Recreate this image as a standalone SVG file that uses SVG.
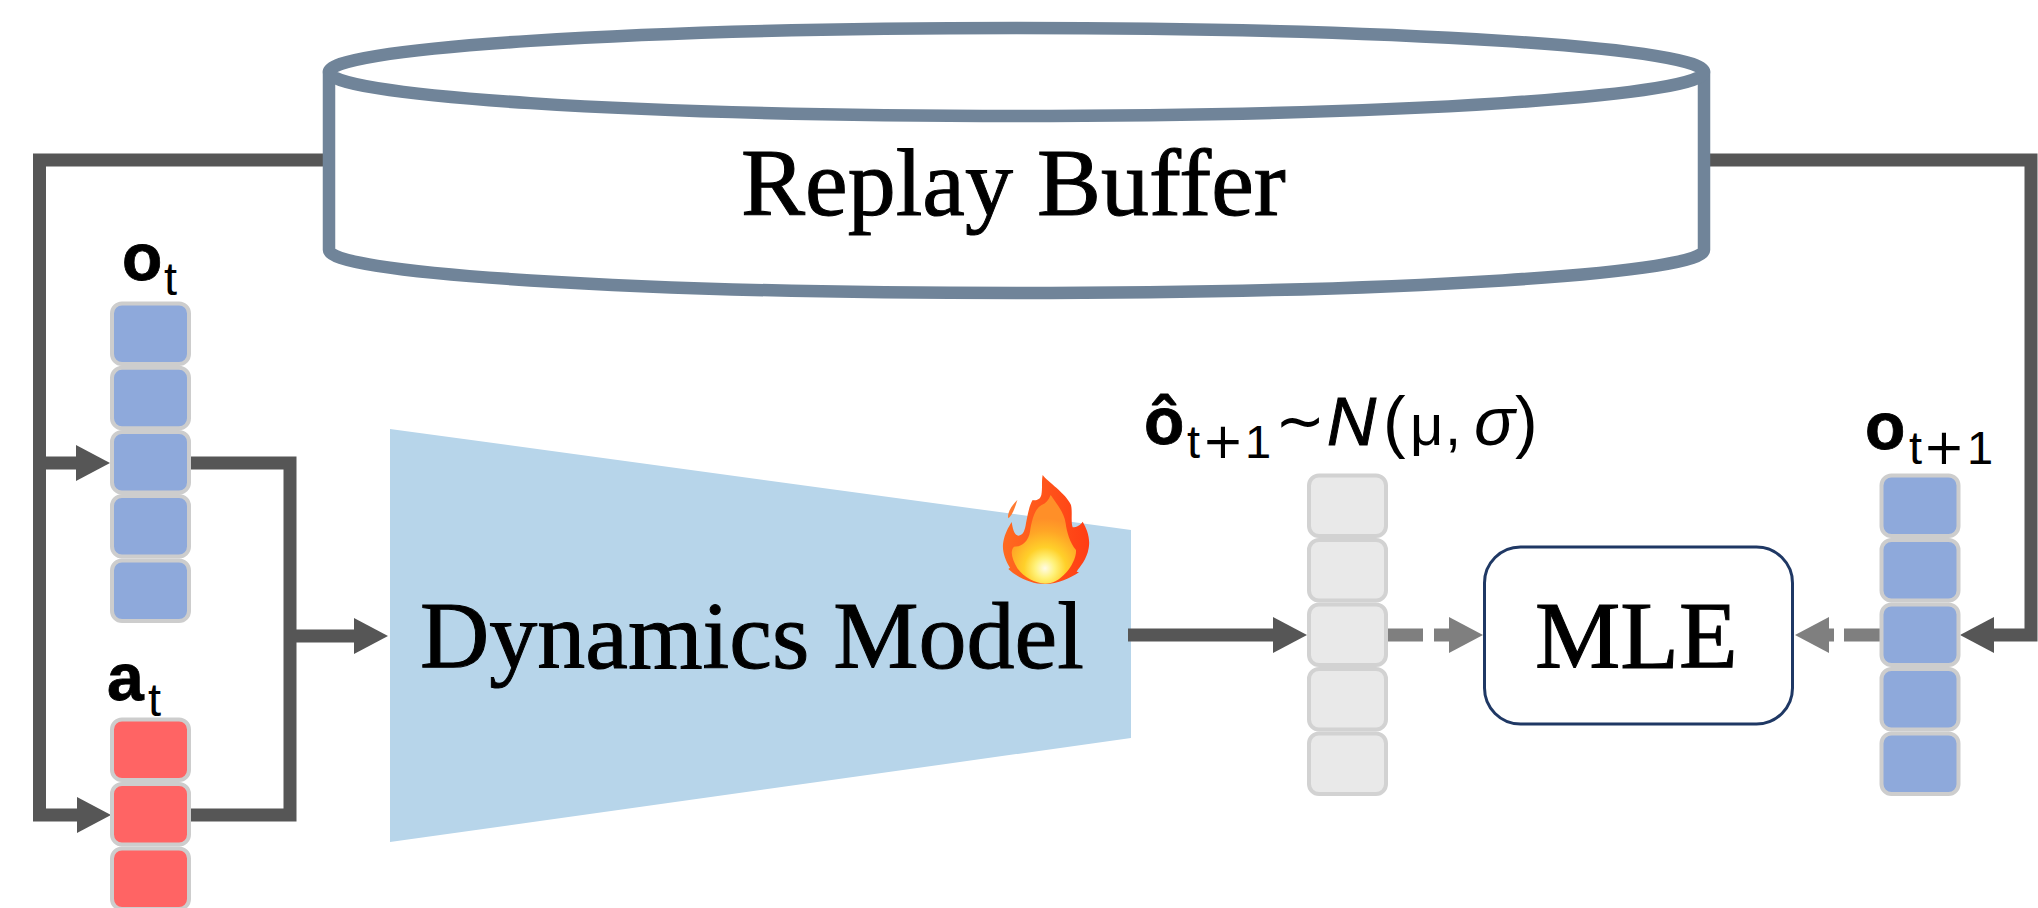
<svg xmlns="http://www.w3.org/2000/svg" width="2038" height="908" viewBox="0 0 2038 908">
<style>
.serif{font-family:"Liberation Serif","Times New Roman",serif;font-size:96px;fill:#000;stroke:#000;stroke-width:1}
.sans{font-family:"Liberation Sans",Arial,sans-serif;fill:#000}
.dj{font-family:"DejaVu Sans",sans-serif;fill:#000}
.b{font-weight:700;font-size:66px;stroke:#000;stroke-width:.8}
.sub{font-size:47px}
.m{font-size:68px}
.dark{fill:none;stroke:#565656;stroke-width:13}
.grey{fill:none;stroke:#7f7f7f;stroke-width:13}
.cb{fill:#8EA9DB;stroke:#cdcdcd;stroke-width:4}
.cr{fill:#FF6464;stroke:#cdcdcd;stroke-width:4}
.cg{fill:#E9E9E9;stroke:#d2d2d2;stroke-width:4}
.buf{fill:#fff;stroke:#708499;stroke-width:12.500;stroke-linejoin:round}
</style>
<defs>
<marker id="ad" markerUnits="userSpaceOnUse" markerWidth="36" markerHeight="36" refX="0" refY="18" orient="auto"><path d="M0 0L34 18L0 36Z" fill="#565656"/></marker>
<marker id="ag" markerUnits="userSpaceOnUse" markerWidth="36" markerHeight="36" refX="0" refY="18" orient="auto"><path d="M0 0L34 18L0 36Z" fill="#7f7f7f"/></marker>
<radialGradient id="fl" gradientUnits="userSpaceOnUse" cx="255" cy="385" r="150"><stop offset="0" stop-color="#fffbe6"/><stop offset=".2" stop-color="#fff27a"/><stop offset=".42" stop-color="#ffd02a"/><stop offset=".75" stop-color="#ffa526"/><stop offset="1" stop-color="#ff8f28"/></radialGradient>
<linearGradient id="fo" x1="0" y1="0" x2="1" y2="0"><stop offset="0" stop-color="#ff6a20"/><stop offset="1" stop-color="#ff3d14"/></linearGradient>
<rect id="c" width="77" height="60.500" rx="10"/>
</defs>
<rect width="2038" height="908" fill="#fff"/>
<g id="dynamics-model"><path d="M390 429L1131 530V738L390 842Z" fill="#B7D5EA"/><text class="serif" x="420" y="668">Dynamics Model</text></g>
<g id="connectors">
<path class="dark" d="M328 160H39.5V815H77" marker-end="url(#ad)"/>
<path class="dark" d="M39.5 463H76" marker-end="url(#ad)"/>
<path class="dark" d="M191 463H290V815H191"/>
<path class="dark" d="M284 636H354" marker-end="url(#ad)"/>
<path class="dark" d="M1128 635H1273" marker-end="url(#ad)"/>
<path class="dark" d="M1704 160H2031V635H1994" marker-end="url(#ad)"/>
<path class="grey" d="M1387 635H1423"/>
<path class="grey" d="M1434 635H1449" marker-end="url(#ag)"/>
<path class="grey" d="M1880 635H1844"/>
<path class="grey" d="M1834 635H1829" marker-end="url(#ag)"/>
</g>
<g id="replay-buffer">
<path class="buf" d="M329 72V250A687.500 43 0 0 0 1704 250V72Z"/>
<ellipse class="buf" cx="1016.500" cy="72" rx="687.500" ry="44"/>
<text class="serif" x="741" y="215">Replay Buffer</text>
</g>
<g id="o-t">
<use href="#c" class="cb" x="112" y="303.500"/><use href="#c" class="cb" x="112" y="367.800"/><use href="#c" class="cb" x="112" y="432"/><use href="#c" class="cb" x="112" y="496"/><use href="#c" class="cb" x="112" y="560.500"/>
<text class="sans b" x="122" y="280">o</text><text class="sans sub" x="164" y="295">t</text>
</g>
<g id="a-t">
<use href="#c" class="cr" x="112" y="719.500"/><use href="#c" class="cr" x="112" y="784"/><use href="#c" class="cr" x="112" y="848.500"/>
<text class="sans b" x="107" y="700">a</text><text class="sans sub" x="148" y="716">t</text>
</g>
<g id="o-hat">
<use href="#c" class="cg" x="1309" y="475.500"/><use href="#c" class="cg" x="1309" y="540"/><use href="#c" class="cg" x="1309" y="604.500"/><use href="#c" class="cg" x="1309" y="669"/><use href="#c" class="cg" x="1309" y="733.500"/>
<text class="sans b" x="1144" y="444">ô</text><text class="sans sub" x="1187" y="458">t</text><text class="dj" font-size="50" x="1202" y="458">+</text><text class="sans sub" x="1245" y="458">1</text><text class="dj" font-size="60" x="1275" y="442">~</text><text class="sans m" font-style="italic" stroke="#000" stroke-width="1" x="1327" y="445">N</text><text class="sans m" x="1383" y="445">(</text><text class="sans" font-size="58" x="1410 1445" y="445">μ,</text><text class="sans m" font-style="italic" x="1474" y="445">σ</text><text class="sans m" x="1515" y="445">)</text>
</g>
<g id="mle"><rect x="1484.500" y="547" width="308" height="177" rx="36" fill="#fff" stroke="#1F3864" stroke-width="3"/><text class="serif" x="1535" y="668">MLE</text></g>
<g id="o-next">
<use href="#c" class="cb" x="1881.500" y="475.500"/><use href="#c" class="cb" x="1881.500" y="540"/><use href="#c" class="cb" x="1881.500" y="604.500"/><use href="#c" class="cb" x="1881.500" y="669"/><use href="#c" class="cb" x="1881.500" y="733.500"/>
<text class="sans b" x="1865" y="449">o</text><text class="sans sub" x="1909" y="464">t</text><text class="dj" font-size="50" x="1923" y="464">+</text><text class="sans sub" x="1967" y="464">1</text>
</g>
<g id="flame" transform="translate(960 440) scale(.3333)">
<path d="M248 105C262 125 318 160 333 195C338 215 332 245 338 262C350 262 362 255 368 245C380 265 392 295 386 325C380 360 360 380 350 395L357 397C330 415 295 432 255 432C215 432 175 415 145 387L150 383C135 360 125 330 130 305C135 280 145 262 155 246C158 265 162 285 175 287C190 287 195 270 198 250C203 225 208 195 218 180C228 182 240 180 244 165C248 145 244 125 248 105Z" fill="url(#fo)"/>
<path d="M172 180C165 205 155 228 145 235C140 222 155 195 172 180Z" fill="#FF7A30"/>
<path d="M272 165C288 190 312 215 317 250C320 275 330 310 348 330C350 350 335 380 318 398C298 420 278 431 255 431C225 430 192 412 172 385C158 360 148 335 162 320C185 320 205 305 210 275C215 240 225 205 245 195C258 190 266 180 272 165Z" fill="url(#fl)"/>
</g>
</svg>
